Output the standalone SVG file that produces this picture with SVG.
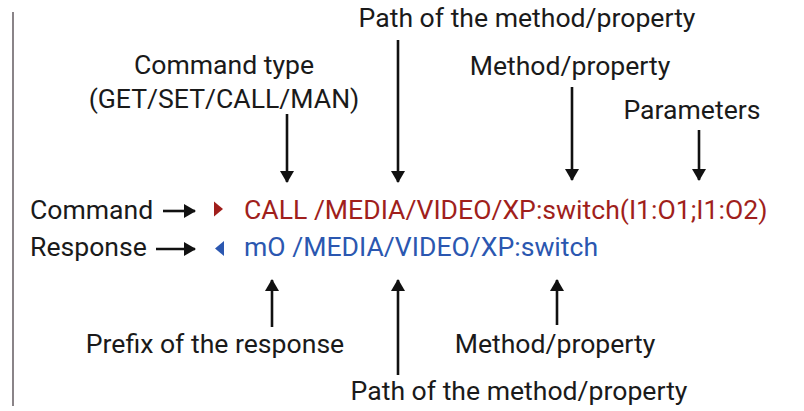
<svg xmlns="http://www.w3.org/2000/svg" width="804" height="411" viewBox="0 0 804 411">
<defs>
<style>
text{font-family:Roboto,"Liberation Sans",sans-serif;font-size:26.6px;fill:#1a1a1a}
.mid{text-anchor:middle}
.cmd{fill:#a01f1c}
.rsp{fill:#2b57b0}
.con line{stroke:#111;stroke-width:2.6}
</style>
<marker id="ah" viewBox="0 0 12 14" refX="11" refY="7" markerWidth="12" markerHeight="14" markerUnits="userSpaceOnUse" orient="auto">
<path d="M0,0 L12,7 L0,14 Z" fill="#111"/>
</marker>
</defs>
<rect width="804" height="411" fill="#fff"/>
<line x1="13" y1="12" x2="13" y2="406" stroke="#8a8488" stroke-width="2"/>

<g id="label-command"><text x="30" y="219">Command</text></g>
<g id="label-response"><text x="30" y="256">Response</text></g>
<g id="command-line"><path d="M214,201.5 L223,209 L214,216.5 Z" fill="#a01f1c"/><text class="cmd" x="244" y="219">CALL /MEDIA/VIDEO/XP:switch(I1:O1;I1:O2)</text></g>
<g id="response-line"><path d="M224,241 L215,248.5 L224,256 Z" fill="#2b57b0"/><text class="rsp" x="244" y="256">mO /MEDIA/VIDEO/XP:switch</text></g>

<g id="top-command-type"><text class="mid" x="224" y="74">Command type</text><text class="mid" x="224" y="108">(GET/SET/CALL/MAN)</text></g>
<g id="top-path"><text class="mid" x="527" y="27">Path of the method/property</text></g>
<g id="top-method"><text class="mid" x="570" y="75">Method/property</text></g>
<g id="top-parameters"><text class="mid" x="692" y="119">Parameters</text></g>
<g id="bottom-prefix"><text class="mid" x="215" y="353">Prefix of the response</text></g>
<g id="bottom-method"><text class="mid" x="555" y="353">Method/property</text></g>
<g id="bottom-path"><text class="mid" x="519" y="400">Path of the method/property</text></g>

<g id="connectors" class="con">
<line x1="163" y1="211" x2="195" y2="211" marker-end="url(#ah)"/>
<line x1="156" y1="249" x2="195" y2="249" marker-end="url(#ah)"/>
<line x1="287" y1="114" x2="287" y2="182" marker-end="url(#ah)"/>
<line x1="398" y1="40" x2="398" y2="182" marker-end="url(#ah)"/>
<line x1="572" y1="87" x2="572" y2="180" marker-end="url(#ah)"/>
<line x1="699" y1="130" x2="699" y2="180" marker-end="url(#ah)"/>
<line x1="272" y1="327" x2="272" y2="280" marker-end="url(#ah)"/>
<line x1="398" y1="375" x2="398" y2="280" marker-end="url(#ah)"/>
<line x1="557" y1="325" x2="557" y2="280" marker-end="url(#ah)"/>
</g>
</svg>
